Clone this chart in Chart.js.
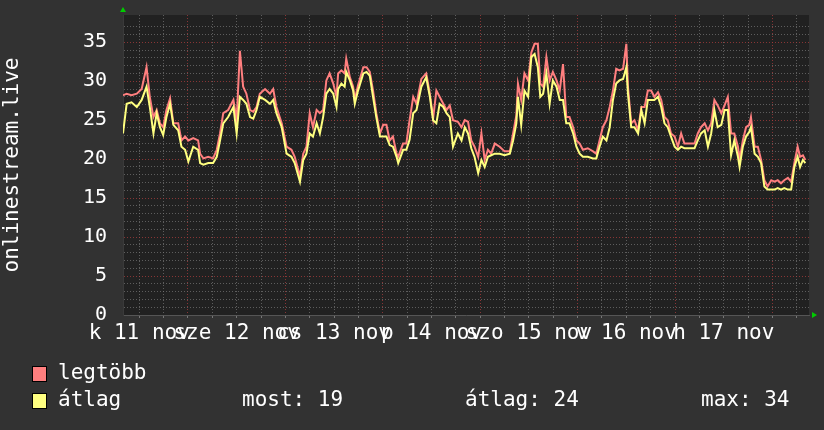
<!DOCTYPE html>
<html>
<head>
<meta charset="utf-8">
<script src="https://cdn.jsdelivr.net/npm/chart.js@4.4.0/dist/chart.umd.min.js"></script>
<style>
  html, body { margin: 0; padding: 0; background: #333333; }
  #wrap { width: 824px; height: 430px; }
</style>
</head>
<body>
<div id="wrap"><canvas id="chart1" width="824" height="430"></canvas></div>
<script>
// hours counted from 11 nov 00:00
var hours = [
  8.0, 8.9, 10.1, 11.4, 12.6, 13.8, 14.6, 15.5, 16.3, 17.1,
  17.9, 18.7, 19.6, 20.4, 21.6, 22.4, 23.3, 24.1, 25.3, 26.5,
  27.0, 27.8, 29.0, 30.2, 31.1, 31.9, 32.7, 33.9, 35.2, 36.0,
  36.8, 37.6, 38.4, 39.3, 40.1, 40.9, 41.7, 43.0, 44.2, 45.0,
  45.8, 47.1, 48.3, 49.5, 50.3, 51.6, 52.4, 53.2, 54.0, 54.8,
  55.7, 56.5, 57.3, 58.1, 58.9, 59.8, 60.6, 61.0, 61.8, 62.6,
  63.0, 63.9, 64.7, 65.1, 65.9, 67.2, 68.0, 68.8, 69.6, 70.4,
  71.3, 72.1, 72.9, 73.7, 74.5, 75.4, 75.8, 77.0, 77.8, 78.6,
  79.5, 80.3, 81.5, 82.7, 83.6, 84.4, 85.2, 86.0, 86.9, 87.7,
  88.5, 89.3, 90.5, 91.4, 92.2, 93.0, 93.8, 94.6, 95.5, 96.3,
  97.1, 97.9, 98.7, 99.6, 100.8, 102.0, 103.3, 104.1, 104.9, 105.3,
  106.1, 106.9, 107.8, 108.6, 109.4, 110.2, 110.8, 111.5, 112.3, 113.1,
  113.9, 114.8, 115.6, 116.4, 117.2, 118.0, 118.9, 119.7, 120.5, 121.3,
  122.5, 123.8, 124.6, 125.4, 126.2, 127.1, 127.9, 128.7, 129.5, 130.3,
  131.2, 132.0, 132.4, 133.2, 134.0, 134.9, 135.7, 136.5, 137.3, 138.1,
  138.9, 139.8, 140.6, 141.4, 142.2, 143.0, 143.9, 144.7, 145.5, 146.3,
  147.6, 148.8, 149.6, 150.4, 151.3, 152.1, 152.9, 153.7, 154.5, 155.4,
  156.2, 157.0, 157.8, 158.6, 159.5, 159.9, 160.7, 161.5, 162.3, 162.7,
  163.6, 164.4, 165.2, 166.0, 166.8, 167.7, 168.5, 169.3, 170.1, 170.9,
  171.8, 172.6, 173.4, 174.2, 174.8, 175.5, 176.1
]

var maxValues = [
  28.2, 28.4, 28.2, 28.4, 29.0, 31.8, 28.0, 25.4, 26.3, 24.6,
  24.1, 26.3, 27.8, 24.6, 24.6, 22.4, 22.9, 22.4, 22.7, 22.4,
  20.7, 20.1, 20.3, 20.1, 21.2, 23.3, 25.9, 26.3, 27.6, 25.0,
  33.9, 29.3, 28.4, 26.3, 26.1, 26.7, 28.4, 29.0, 28.4, 29.0,
  26.7, 24.6, 21.6, 21.2, 20.3, 17.8, 20.7, 21.6, 25.9, 24.1,
  26.3, 25.9, 26.3, 30.1, 31.0, 29.7, 28.0, 31.0, 31.4, 31.0,
  32.9, 30.5, 29.3, 27.6, 29.5, 31.8, 31.8, 31.2, 28.8, 25.9,
  23.3, 24.4, 24.4, 22.4, 22.9, 20.7, 20.3, 22.0, 22.0, 25.0,
  28.0, 27.1, 30.3, 31.0, 28.4, 25.2, 28.8, 28.0, 27.1, 26.3,
  26.9, 25.0, 24.8, 24.1, 25.0, 24.8, 22.4, 21.6, 20.3, 23.3,
  19.9, 21.2, 20.7, 22.0, 21.6, 21.0, 21.0, 23.3, 25.6, 29.7,
  27.6, 31.0, 30.1, 33.7, 34.8, 34.8, 29.7, 29.3, 33.1, 30.1,
  31.2, 30.1, 28.8, 32.2, 25.4, 25.4, 24.1, 22.4, 22.0, 21.2,
  21.4, 21.0, 20.7, 22.4, 24.1, 25.0, 26.7, 28.8, 31.6, 31.4,
  31.6, 34.8, 29.3, 24.6, 25.0, 23.7, 26.7, 26.7, 28.8, 28.8,
  28.0, 28.6, 27.6, 25.4, 25.0, 23.3, 22.9, 21.6, 23.3, 22.0,
  22.0, 22.0, 23.3, 24.1, 24.6, 23.7, 24.6, 27.6, 26.9, 25.9,
  26.9, 28.0, 23.3, 23.3, 21.6, 19.9, 22.4, 24.1, 24.4, 25.4,
  21.6, 21.6, 19.9, 17.3, 16.5, 17.3, 17.1, 17.3, 16.9, 17.3,
  17.6, 17.1, 19.5, 21.6, 20.3, 20.5, 19.9
]

var avgValues = [
  23.3, 27.1, 27.3, 26.7, 27.6, 29.3, 26.7, 23.3, 25.9, 24.1,
  23.1, 25.4, 27.1, 24.4, 23.7, 21.6, 21.2, 19.7, 21.6, 21.2,
  19.5, 19.3, 19.5, 19.5, 20.3, 22.4, 24.6, 25.4, 26.7, 23.3,
  28.0, 27.6, 27.1, 25.4, 25.2, 26.3, 28.0, 27.6, 27.1, 27.6,
  25.9, 24.1, 20.7, 20.3, 19.5, 17.1, 19.9, 20.7, 23.3, 22.9,
  24.6, 23.3, 25.4, 28.4, 29.0, 28.4, 26.7, 29.0, 29.7, 29.3,
  31.2, 30.1, 28.8, 27.1, 28.8, 31.0, 31.2, 30.7, 28.0, 25.4,
  22.9, 22.9, 22.9, 21.8, 21.6, 20.3, 19.5, 21.2, 21.2, 22.5,
  25.9, 26.3, 29.3, 30.5, 28.0, 25.0, 24.6, 27.1, 26.7, 25.9,
  25.4, 21.6, 23.3, 22.4, 24.1, 23.3, 21.4, 20.3, 18.2, 19.9,
  19.0, 20.3, 20.5, 20.7, 20.7, 20.5, 20.7, 22.4, 24.6, 28.0,
  24.4, 28.8, 28.0, 33.1, 33.5, 31.8, 28.0, 28.4, 31.0, 27.1,
  30.1, 29.3, 27.6, 27.6, 24.6, 24.6, 23.3, 21.6, 20.7, 20.3,
  20.3, 20.1, 20.1, 21.6, 22.9, 22.4, 24.1, 27.6, 29.7, 30.1,
  30.3, 31.8, 28.4, 24.1, 24.1, 23.3, 26.3, 24.6, 27.6, 27.6,
  27.6, 28.0, 26.7, 24.6, 24.1, 22.9, 21.6, 21.2, 21.6, 21.4,
  21.4, 21.4, 22.4, 23.3, 23.7, 21.6, 23.3, 26.3, 24.1, 24.4,
  26.3, 26.3, 20.5, 22.4, 20.3, 19.0, 21.6, 22.9, 23.5, 24.1,
  20.7, 20.3, 19.5, 16.5, 16.1, 16.1, 16.1, 16.3, 16.1, 16.3,
  16.1, 16.1, 19.0, 20.3, 19.0, 19.9, 19.5
]

var gridHours = [12, 18, 24, 30, 36, 42, 48, 54, 60, 66, 72, 78, 84, 90, 96, 102, 108,
  114, 120, 126, 132, 138, 144, 150, 156, 162, 168, 174]
var labelHours = [12, 36, 60, 84, 108, 132, 156]
var dayLabels = ['k 11 nov', 'sze 12 nov', 'cs 13 nov', 'p 14 nov', 'szo 15 nov', 'v 16 nov', 'h 17 nov']

var seriesNames = ['legtöbb', 'átlag']
var seriesColors = ['#ff7f7f', '#ffff80']
var statTexts = ['most: 19', 'átlag: 24', 'max: 34']

var mono = 'DejaVu Sans Mono'

function points(vals) {
  var out = []
  for (var i = 0; i < hours.length; i++) {
    out.push({ x: hours[i], y: vals[i] })
  }
  return out
}

var background = {
  id: 'background',
  beforeDraw: function(chart) {
    var ctx = chart.ctx
    var a = chart.chartArea
    ctx.save()
    ctx.fillStyle = '#323232'
    ctx.fillRect(0, 0, chart.width, chart.height)
    ctx.fillStyle = '#212121'
    ctx.fillRect(a.left, a.top, a.right - a.left, a.bottom - a.top)
    ctx.restore()
  }
}

var extras = {
  id: 'extras',
  afterDraw: function(chart) {
    var ctx = chart.ctx
    var a = chart.chartArea
    ctx.save()
    // little green arrows at the axis ends
    ctx.fillStyle = '#00cc00'
    ctx.beginPath()
    ctx.moveTo(a.left - 3, a.top - 3)
    ctx.lineTo(a.left + 3, a.top - 3)
    ctx.lineTo(a.left, a.top - 8)
    ctx.fill()
    ctx.beginPath()
    ctx.moveTo(a.right + 3, a.bottom - 3)
    ctx.lineTo(a.right + 3, a.bottom + 3)
    ctx.lineTo(a.right + 8, a.bottom)
    ctx.fill()

    // legend
    ctx.font = '21px "' + mono + '"'
    ctx.textBaseline = 'middle'
    ctx.textAlign = 'left'
    var rows = [374, 401]
    for (var i = 0; i < seriesNames.length; i++) {
      ctx.fillStyle = seriesColors[i]
      ctx.fillRect(32, rows[i] - 8, 15, 16)
      ctx.strokeStyle = '#000000'
      ctx.lineWidth = 1
      ctx.strokeRect(32.5, rows[i] - 7.5, 14, 15)
      ctx.fillStyle = '#ffffff'
      ctx.fillText(seriesNames[i], 58, rows[i])
    }
    var statX = [242, 465, 701]
    for (var j = 0; j < statTexts.length; j++) {
      ctx.fillText(statTexts[j], statX[j], rows[1])
    }
    ctx.restore()
  }
}

var ctx = document.getElementById('chart1').getContext('2d')
new Chart(ctx, {
  type: 'line',
  data: {
    datasets: [
      {
        label: seriesNames[1],
        data: points(avgValues),
        borderColor: seriesColors[1],
        borderWidth: 2,
        pointRadius: 0,
        tension: 0,
        order: 0
      },
      {
        label: seriesNames[0],
        data: points(maxValues),
        borderColor: seriesColors[0],
        borderWidth: 2,
        pointRadius: 0,
        tension: 0,
        order: 1
      }
    ]
  },
  options: {
    responsive: false,
    animation: false,
    layout: { padding: { top: 15, right: 15, bottom: 0, left: 0 } },
    plugins: {
      legend: { display: false },
      tooltip: { enabled: false }
    },
    scales: {
      x: {
        type: 'linear',
        min: 8,
        max: 177,
        afterBuildTicks: function(scale) {
          scale.ticks = gridHours.map(function(h) { return { value: h } })
        },
        afterFit: function(scale) {
          scale.height = 115
          scale.paddingLeft = 0
          scale.paddingRight = 0
        },
        ticks: {
          autoSkip: false,
          maxRotation: 0,
          padding: 3,
          color: '#ffffff',
          font: { family: mono, size: 21 },
          callback: function(value) {
            var i = labelHours.indexOf(value)
            return i >= 0 ? dayLabels[i] : ''
          }
        },
        grid: {
          color: function(c) {
            return c.tick && c.tick.value % 24 === 0 ? 'rgba(170,60,60,0.75)' : 'rgba(120,120,120,0.7)'
          },
          lineWidth: 1,
          drawTicks: true,
          tickLength: 3,
          tickColor: '#777777'
        },
        border: { display: true, color: '#555555', dash: [1, 2] }
      },
      y: {
        min: 0,
        max: 38.5,
        afterFit: function(scale) {
          scale.width = 123
          scale.paddingTop = 0
          scale.paddingBottom = 0
        },
        ticks: {
          stepSize: 1,
          autoSkip: false,
          maxTicksLimit: 100,
          padding: 16,
          color: '#ffffff',
          font: { family: mono, size: 20 },
          callback: function(value) { return value % 5 === 0 ? String(value) : '' }
        },
        grid: {
          color: function(c) {
            if (!c.tick || c.tick.value % 1 !== 0 || c.tick.value === 0) return 'rgba(0,0,0,0)'
            return c.tick.value % 5 === 0 ? 'rgba(170,60,60,0.75)' : 'rgba(120,120,120,0.7)'
          },
          lineWidth: 1,
          drawTicks: false
        },
        border: { display: true, color: '#3a3a3a', dash: [1, 2] },
        title: {
          display: true,
          text: 'onlinestream.live',
          color: '#ffffff',
          padding: 0,
          font: { family: mono, size: 21 }
        }
      }
    }
  },
  plugins: [background, extras]
})
</script>
</body>
</html>
